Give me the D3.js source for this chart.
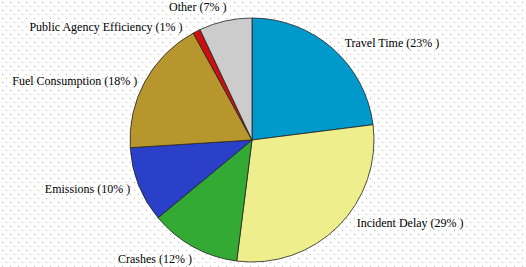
<!DOCTYPE html>
<html>
<head>
<meta charset="utf-8">
<script src="https://cdn.jsdelivr.net/npm/d3@7"></script>
<style>
  body { margin: 0; background: #fff; }
</style>
</head>
<body>
<svg id="chart" width="526" height="267"></svg>
<script>
// Data (clockwise from 12 o'clock)
var categories = ["Travel Time", "Incident Delay", "Crashes", "Emissions", "Fuel Consumption", "Public Agency Efficiency", "Other"];
var shares = [23, 29, 12, 10, 18, 1, 7];
var labels = ["Travel Time (23% )", "Incident Delay (29% )", "Crashes (12% )", "Emissions (10% )",
              "Fuel Consumption (18% )", "Public Agency Efficiency (1% )", "Other (7% )"];
var colors = ["#0099cc", "#eeee8c", "#33aa33", "#2a40c8", "#b8962e", "#cc1010", "#cccccc"];

var width = 526, height = 267,
    cx = 252, cy = 140,
    radius = 122,
    label_radius = 131;
// small hand nudges so labels sit where the original put them
var nudge_x = [0, 6, 3, 0, 0, -10, 3],
    nudge_y = [1, -10, 4, 1, 4, 4, -5];

var svg = d3.select("#chart");

// dotted background, like the original bitmap
var defs = svg.append("defs");
var pat = defs.append("pattern")
  .attr("id", "dots")
  .attr("width", 8).attr("height", 8)
  .attr("patternUnits", "userSpaceOnUse");
pat.append("rect").attr("x", 2).attr("y", 2).attr("width", 1).attr("height", 1).style("fill", "#b4b4b4");
pat.append("rect").attr("x", 6).attr("y", 6).attr("width", 1).attr("height", 1).style("fill", "#b4b4b4");
svg.append("rect").attr("width", width).attr("height", height).style("fill", "url(#dots)");

var color = d3.scaleOrdinal().domain(categories).range(colors);

var pie = d3.pie()
  .sort(null)
  .value(function(d, i) { return shares[i]; });
var arcs = pie(categories);

var arc = d3.arc().innerRadius(0).outerRadius(radius);
var labelArc = d3.arc().innerRadius(label_radius).outerRadius(label_radius);

var g = svg.append("g").attr("transform", "translate(" + cx + "," + cy + ")");

g.selectAll("path.slice")
  .data(arcs)
  .enter().append("path")
  .classed("slice", true)
  .attr("d", arc)
  .style("fill", function(d) { return color(d.data); })
  .style("stroke", "#222")
  .style("stroke-width", 0.8)
  .style("stroke-linejoin", "round");

function rightSide(d) { return (d.startAngle + d.endAngle) / 2 < Math.PI; }

// Labels, left-anchored on the right half, right-anchored on the left half
g.selectAll("text.label")
  .data(arcs)
  .enter().append("text")
  .classed("label", true)
  .attr("font-family", "'Liberation Serif', 'Times New Roman', 'DejaVu Serif', serif")
  .attr("font-size", 12)
  .attr("fill", "#000")
  .attr("transform", function(d, i) {
    var c = labelArc.centroid(d);
    return "translate(" + (c[0] + nudge_x[i] + (rightSide(d) ? 6 : 0)) + "," + (c[1] + nudge_y[i]) + ")";
  })
  .attr("dy", "0.35em")
  .attr("text-anchor", function(d) { return rightSide(d) ? "start" : "end"; })
  .text(function(d, i) { return labels[i]; });
</script>
</body>
</html>
